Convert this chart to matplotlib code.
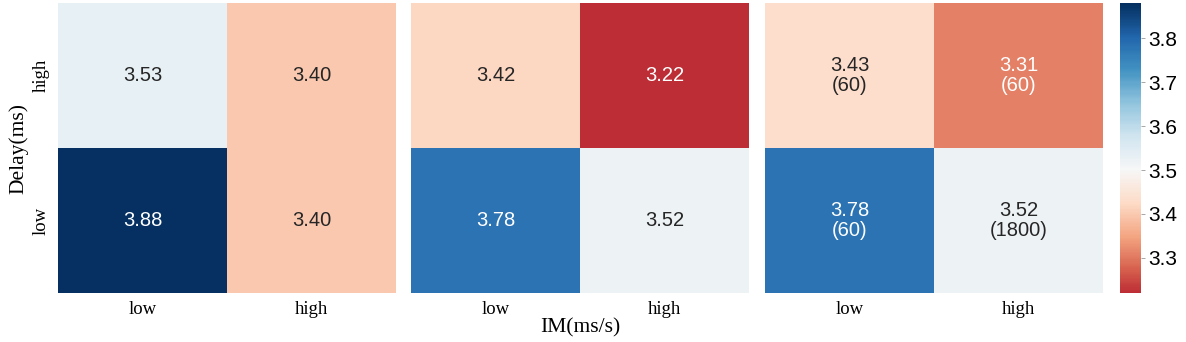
import numpy as np
import matplotlib
matplotlib.use("Agg")
import matplotlib.pyplot as plt
import seaborn as sns

rows = ["high", "low"]
cols = ["low", "high"]
panel1 = [[3.53, 3.40], [3.88, 3.40]]
panel2 = [[3.42, 3.22], [3.78, 3.52]]
panel3 = [[3.43, 3.31], [3.78, 3.52]]
counts3 = [[60, 60], [60, 1800]]
cbar_ticks = [3.3, 3.4, 3.5, 3.6, 3.7, 3.8]
center_value = 3.5

allv = np.array([panel1, panel2, panel3])
vmin, vmax = allv.min(), allv.max()

fig = plt.figure(figsize=(11.86, 3.42), dpi=100)
bottom, height = 0.143, 0.848
lefts = [58 / 1186, 411 / 1186, 765 / 1186]
width = 338 / 1186
axes = [fig.add_axes([l, bottom, width, height]) for l in lefts]
cax = fig.add_axes([1120 / 1186, bottom, 21 / 1186, height])

annots = [
    [[f"{v:.2f}" for v in r] for r in panel1],
    [[f"{v:.2f}" for v in r] for r in panel2],
    [[f"{v:.2f}\n({c})" for v, c in zip(r, cr)] for r, cr in zip(panel3, counts3)],
]
datas = [panel1, panel2, panel3]

for i, (ax, d, a) in enumerate(zip(axes, datas, annots)):
    sns.heatmap(np.array(d), ax=ax, cmap="RdBu", vmin=vmin, vmax=vmax,
                center=center_value,
                annot=np.array(a), fmt="", cbar=(i == 2),
                cbar_ax=cax if i == 2 else None,
                annot_kws={"fontsize": 14.5, "family": "Liberation Sans",
                           "linespacing": 1.05},
                xticklabels=cols, yticklabels=rows if i == 0 else False)
    ax.tick_params(length=0, pad=6)
    for t in ax.get_xticklabels():
        t.set_fontfamily("Liberation Serif")
        t.set_fontsize(13.5)
    if i == 0:
        for t in ax.get_yticklabels():
            t.set_fontfamily("Liberation Serif")
            t.set_fontsize(13.5)
            t.set_rotation(90)
            t.set_va("center")
        ax.set_ylabel("Delay(ms)", fontfamily="Liberation Serif", fontsize=15.5, labelpad=3)
    if i == 1:
        ax.set_xlabel("IM(ms/s)", fontfamily="Liberation Serif", fontsize=15.5, labelpad=0)

cax.set_yticks(cbar_ticks)
cax.tick_params(length=3, color="#999999", width=0.6, pad=2)
for t in cax.get_yticklabels():
    t.set_fontfamily("Liberation Sans")
    t.set_fontsize(15)

fig.savefig("out.png", dpi=100)
